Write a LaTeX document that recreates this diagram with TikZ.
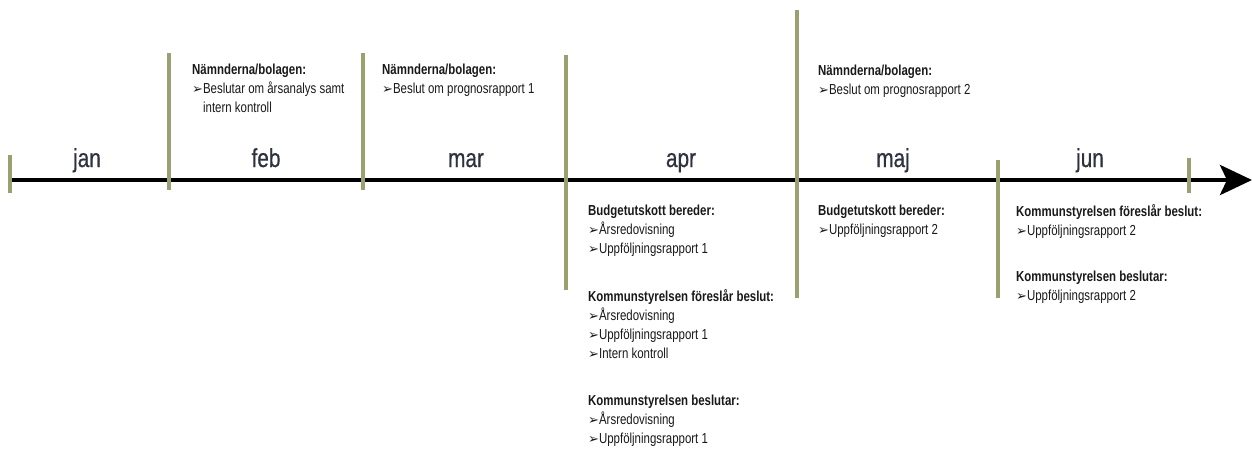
\documentclass[tikz,border=0pt]{standalone}
\usepackage{fontspec}
\setmainfont{Liberation Sans}[FakeStretch=0.79]
\newfontfamily\monthfont{Liberation Sans}[FakeStretch=0.8,FakeBold=0.6]
\newfontfamily\symfont{DejaVu Sans}
\usetikzlibrary{arrows.meta}
\definecolor{olive}{RGB}{155,160,112}
\definecolor{monthc}{RGB}{45,50,62}
\definecolor{txtc}{RGB}{25,25,25}
\newcommand\bul{{\symfont\fontsize{13}{12}\selectfont\char"27A2}}
\newcommand\ind{\phantom{\bul}}
\tikzset{
  tick/.style={draw=olive, line width=4pt},
  axis/.style={draw=black, line width=4.5pt, -{Stealth[length=32pt,width=30pt,inset=7pt]}},
  month/.style={font=\monthfont\fontsize{26}{30}\selectfont, text=monthc, inner sep=0pt, anchor=base},
  blk/.style={font=\fontsize{14.5}{19}\selectfont, text=txtc, inner sep=0pt, anchor=base west, align=left},
}
\begin{document}
\begin{tikzpicture}[x=1pt,y=-1pt]
\useasboundingbox (0,0) rectangle (1252,451);
% axis
\coordinate (a0) at (10,180);
\coordinate (a1) at (1252,180);
\draw[axis] (a0) -- (a1);
% ticks
\foreach \n/\x/\t/\b in {k1/10/155/193, k2/169/53/190, k3/363/53/190, k4/566/55/290, k5/797/10/298, k6/998/160/298, k7/1189/158/193}{
  \coordinate (\n t) at (\x,\t);
  \coordinate (\n b) at (\x,\b);
  \draw[tick] (\n t) -- (\n b);
}
% months
\node[month] (jan) at (87,167) {jan};
\node[month] (feb) at (266,167) {feb};
\node[month] (mar) at (466,167) {mar};
\node[month] (apr) at (681,167) {apr};
\node[month] (maj) at (893,167) {maj};
\node[month] (jun) at (1090,167) {jun};
% upper blocks (anchored at the baseline of the last line)
\node[blk] (febtxt) at (192,112) {\textbf{Nämnderna/bolagen:}\\\bul Beslutar om årsanalys samt\\\ind intern kontroll};
\node[blk] (martxt) at (382,93) {\textbf{Nämnderna/bolagen:}\\\bul Beslut om prognosrapport 1};
\node[blk] (majtxt) at (818,94) {\textbf{Nämnderna/bolagen:}\\\bul Beslut om prognosrapport 2};
% lower blocks
\node[blk] (aprlow) at (588,443) {\textbf{Budgetutskott bereder:}\\\bul Årsredovisning\\\bul Uppföljningsrapport 1\\[29pt]
\textbf{Kommunstyrelsen föreslår beslut:}\\\bul Årsredovisning\\\bul Uppföljningsrapport 1\\\bul Intern kontroll\\[28pt]
\textbf{Kommunstyrelsen beslutar:}\\\bul Årsredovisning\\\bul Uppföljningsrapport 1};
\node[blk] (majlow) at (818,234) {\textbf{Budgetutskott bereder:}\\\bul Uppföljningsrapport 2};
\node[blk] (junlow) at (1016,300) {\textbf{Kommunstyrelsen föreslår beslut:}\\\bul Uppföljningsrapport 2\\[27pt]
\textbf{Kommunstyrelsen beslutar:}\\\bul Uppföljningsrapport 2};
\end{tikzpicture}
\end{document}
